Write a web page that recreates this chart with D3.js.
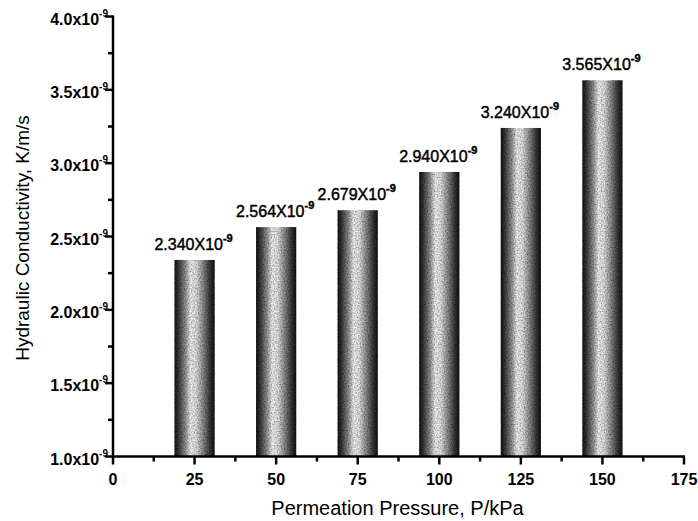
<!DOCTYPE html>
<meta charset="utf-8">
<style>
body { margin: 0; background: #fff; }
text { font-family: "Liberation Sans", Arial, sans-serif; fill: #000; }
</style>
<script src="https://d3js.org/d3.v7.min.js"></script>
<div id="chart"></div>
<script>
// data (conductivity in units of 1e-9 m/s)
var pressures = [25, 50, 75, 100, 125, 150];
var conductivity = [2.340, 2.564, 2.679, 2.940, 3.240, 3.565];
var valueLabels = ["2.340", "2.564", "2.679", "2.940", "3.240", "3.565"];
var xTicks = [0, 25, 50, 75, 100, 125, 150, 175];
var yTicks = [1.0, 1.5, 2.0, 2.5, 3.0, 3.5, 4.0];

var W = 698, H = 521;
var svg = d3.select("#chart").append("svg")
  .attr("width", W).attr("height", H);

var x = d3.scaleLinear().domain([0, 175]).range([113, 684]);
var y = d3.scaleLinear().domain([1, 4]).range([456.5, 16.5]);
var barW = x(12.3) - x(0);

var defs = svg.append("defs");
// bar shading: dark edges, light streak a bit left of centre
var grad = defs.append("linearGradient").attr("id", "barGrad")
  .attr("x1", "0%").attr("x2", "100%").attr("y1", "0%").attr("y2", "0%");
[[0, "#111"], [0.1, "#3a3a3a"], [0.28, "#9a9a9a"], [0.4, "#f6f6f6"], [0.54, "#e6e6e6"],
 [0.72, "#8a8a8a"], [0.88, "#3a3a3a"], [1, "#111"]].forEach(function(s) {
  grad.append("stop").attr("offset", s[0]).attr("stop-color", s[1]);
});
// grainy look like the scanned print
var grain = defs.append("filter").attr("id", "grain")
  .attr("x", 0).attr("y", 0).attr("width", 1).attr("height", 1);
grain.append("feTurbulence").attr("type", "fractalNoise")
  .attr("baseFrequency", 0.7).attr("numOctaves", 1).attr("seed", 3).attr("result", "noise");
grain.append("feColorMatrix").attr("in", "noise").attr("type", "matrix")
  .attr("values", "0 0 0 0 0  0 0 0 0 0  0 0 0 0 0  0 0 0 -1.4 0.95")
  .attr("result", "dots");
grain.append("feComposite").attr("in", "dots").attr("in2", "SourceGraphic")
  .attr("operator", "in").attr("result", "dotsIn");
grain.append("feBlend").attr("in", "dotsIn").attr("in2", "SourceGraphic").attr("mode", "multiply");

// bars
svg.selectAll(".bar")
  .data(pressures)
  .enter().append("rect")
    .attr("class", "bar")
    .attr("x", function(d) { return x(d) - barW / 2; })
    .attr("width", barW)
    .attr("y", function(d, i) { return y(conductivity[i]); })
    .attr("height", function(d, i) { return y(1) - y(conductivity[i]); })
    .attr("fill", "url(#barGrad)")
    .attr("filter", "url(#grain)");

// value labels
var vl = svg.selectAll(".vlab")
  .data(pressures)
  .enter().append("text")
    .attr("class", "vlab")
    .attr("x", function(d) { return x(d) - 1; })
    .attr("y", function(d, i) { return y(conductivity[i]) - 10; })
    .attr("text-anchor", "middle")
    .style("font-size", "16px")
    .style("stroke", "#000").style("stroke-width", 0.45);
vl.append("tspan").text(function(d, i) { return valueLabels[i] + "X10"; });
vl.append("tspan").attr("dy", -8).style("font-size", "11px").style("font-weight", "bold").text("-9");

// x axis
var xAxis = svg.append("g").attr("transform", "translate(0," + y(1) + ")");
xAxis.append("line").attr("x1", x(0) - 1).attr("x2", x(175) + 1).attr("stroke", "#000").attr("stroke-width", 2.5);
xAxis.selectAll(".xt").data(xTicks).enter().append("line")
  .attr("x1", function(d) { return x(d); }).attr("x2", function(d) { return x(d); })
  .attr("y1", 0).attr("y2", 8).attr("stroke", "#000").attr("stroke-width", 2.5);
xAxis.selectAll(".xm").data(xTicks.slice(0, -1)).enter().append("line")
  .attr("x1", function(d) { return x(d + 12.5); }).attr("x2", function(d) { return x(d + 12.5); })
  .attr("y1", 0).attr("y2", 5).attr("stroke", "#000").attr("stroke-width", 2.5);
xAxis.selectAll(".xl").data(xTicks).enter().append("text")
  .attr("x", function(d) { return x(d); }).attr("y", 28)
  .attr("text-anchor", "middle")
  .style("font-size", "16px").style("font-weight", "bold")
  .text(function(d) { return d; });

// y axis
var yAxis = svg.append("g").attr("transform", "translate(" + x(0) + ",0)");
yAxis.append("line").attr("y1", y(1) + 1).attr("y2", y(4) - 1).attr("stroke", "#000").attr("stroke-width", 2.5);
yAxis.selectAll(".yt").data(yTicks).enter().append("line")
  .attr("y1", function(d) { return y(d); }).attr("y2", function(d) { return y(d); })
  .attr("x1", 0).attr("x2", -8).attr("stroke", "#000").attr("stroke-width", 2.5);
yAxis.selectAll(".ym").data(yTicks.slice(0, -1)).enter().append("line")
  .attr("y1", function(d) { return y(d + 0.25); }).attr("y2", function(d) { return y(d + 0.25); })
  .attr("x1", 0).attr("x2", -5).attr("stroke", "#000").attr("stroke-width", 2.5);
var yl = yAxis.selectAll(".yl").data(yTicks).enter().append("text")
  .attr("x", -5).attr("y", function(d) { return y(d) + 8; })
  .attr("text-anchor", "end")
  .style("font-size", "16px").style("font-weight", "bold");
yl.append("tspan").text(function(d) { return d3.format(".1f")(d) + "x10"; });
yl.append("tspan").attr("dy", -8).style("font-size", "10px").text("-9");

// axis titles
svg.append("text")
  .attr("x", x(87.5) - 1).attr("y", 515)
  .attr("text-anchor", "middle")
  .style("font-size", "20px")
  .text("Permeation Pressure, P/kPa");
svg.append("text")
  .attr("transform", "translate(29,238)rotate(-90)")
  .attr("text-anchor", "middle")
  .style("font-size", "19px")
  .text("Hydraulic Conductivity, K/m/s");
</script>
